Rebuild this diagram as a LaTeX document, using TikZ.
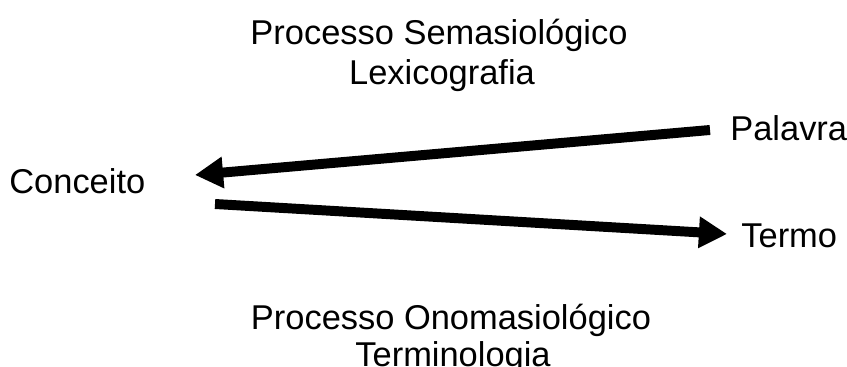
\documentclass[tikz,border=0pt]{standalone}
\usepackage{fontspec}
\setmainfont{Liberation Sans}
\usetikzlibrary{arrows.meta}
\tikzset{
  lbl/.style={inner sep=0pt,font=\fontsize{19.6}{24}\selectfont},
  bigarrow/.style={line width=5.67pt,-{Triangle[length=16pt,width=17pt]}}
}
\begin{document}
\begin{tikzpicture}[x=0.02cm,y=-0.02cm]
\useasboundingbox (0,0) rectangle (847,367);
%\draw[step=50,gray,very thin] (0,0) grid (847,367); %background grid
\node[lbl,anchor=base west] (conceito) at (9,194) {Conceito};
\node[lbl,anchor=base west] (palavra) at (730,141) {Palavra};
\node[lbl,anchor=base west] (termo) at (741,248) {Termo};
\node[lbl,anchor=base] (sema) at (439,45) {Processo Semasiológico};
\node[lbl,anchor=base] (lexico) at (442,85) {Lexicografia};
\node[lbl,anchor=base] (onoma) at (451,330) {Processo Onomasiológico};
\node[lbl,anchor=base] (termino) at (453,366) {Terminologia};
\coordinate (palstart) at (710,130); %arrow start
\coordinate (contip) at (195,175); %arrow tip
\coordinate (constart) at (215,204);
\coordinate (termtip) at (727,234);
\draw[bigarrow] (palstart) -- (contip); %semasiologico
\draw[bigarrow] (constart) -- (termtip); %onomasiologico
\end{tikzpicture}
\end{document}
